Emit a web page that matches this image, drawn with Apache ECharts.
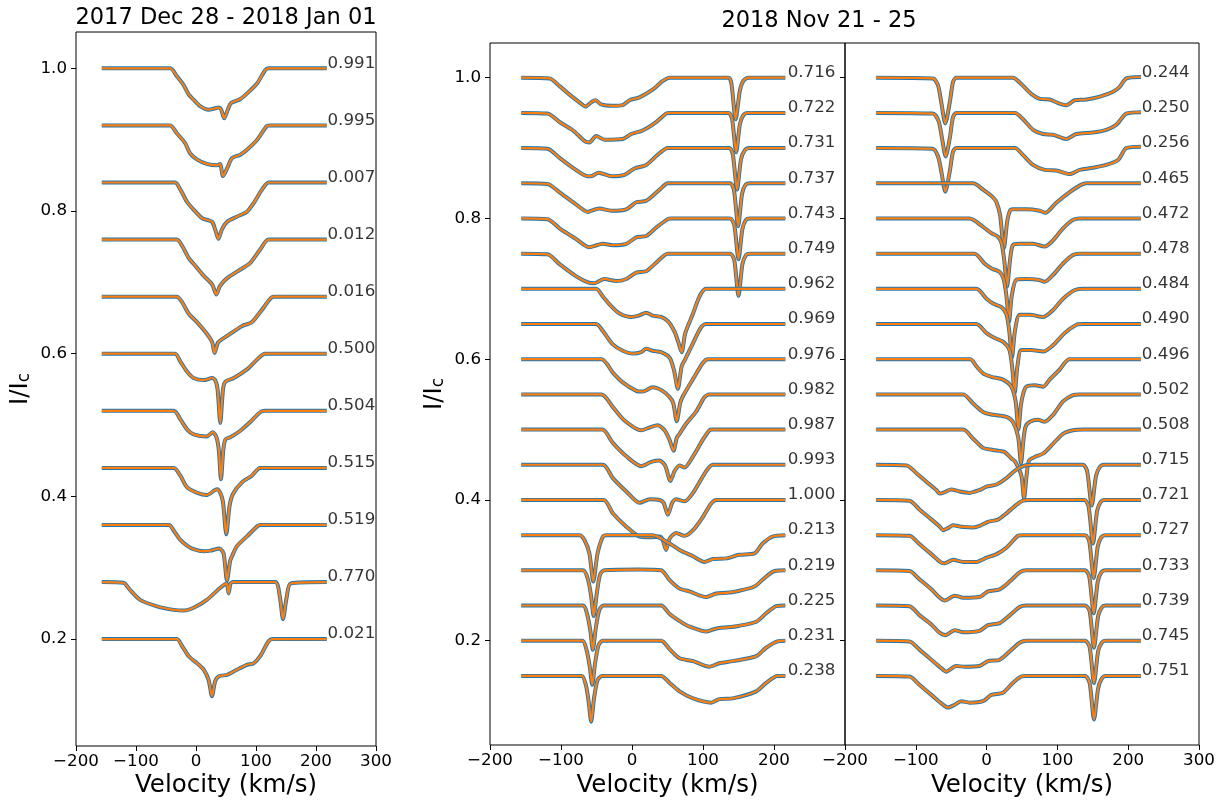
<!DOCTYPE html>
<html>
<head>
<meta charset="utf-8">
<script src="https://cdn.jsdelivr.net/npm/echarts@6/dist/echarts.min.js"></script>
<style>
  html, body { margin: 0; padding: 0; background: #fff; }
  #chart { width: 1228px; height: 808px; }
</style>
</head>
<body>
<div id="chart"></div>
<script>
// each profile is a list of [velocity km/s, I/Ic - continuum]; offsets shift them vertically

// 2017 Dec 28 - 2018 Jan 01
const leftPhases = ['0.991', '0.995', '0.007', '0.012', '0.016', '0.500', '0.504', '0.515', '0.519', '0.770', '0.021'];
const leftOffsets = [1.00, 0.92, 0.84, 0.76, 0.68, 0.60, 0.52, 0.44, 0.36, 0.28, 0.20];
const leftProfiles = [
  [[-157,0],[-43,0],[-32,-0.011],[-21,-0.023],[-12,-0.037],[-4,-0.044],[7,-0.053],[21,-0.058],[32,-0.056],[38,-0.055],[42,-0.058],[47,-0.070],[53,-0.058],[58,-0.049],[74,-0.043],[88,-0.033],[102,-0.021],[115,-0.003],[121,0],[218,0]],
  [[-157,0],[-43,0],[-32,-0.011],[-18,-0.025],[-10,-0.039],[2,-0.048],[18,-0.054],[35,-0.056],[40,-0.054],[45,-0.071],[52,-0.060],[60,-0.046],[74,-0.041],[85,-0.034],[102,-0.020],[118,-0.001],[124,0],[218,0]],
  [[-157,0],[-35,0],[-26,-0.010],[-15,-0.027],[-4,-0.038],[10,-0.050],[21,-0.053],[27,-0.055],[32,-0.066],[37.5,-0.079],[43,-0.066],[52,-0.055],[68,-0.048],[85,-0.041],[96,-0.029],[110,-0.010],[121,0],[218,0]],
  [[-157,0],[-32,0],[-23,-0.009],[-12,-0.026],[-1,-0.037],[13,-0.051],[27,-0.063],[34,-0.077],[40,-0.065],[52,-0.054],[74,-0.042],[90,-0.033],[107,-0.014],[121,0],[218,0]],
  [[-157,0],[-32,0],[-23,-0.008],[-12,-0.024],[2,-0.036],[18,-0.052],[27,-0.064],[31,-0.079],[37,-0.064],[52,-0.055],[77,-0.041],[93,-0.036],[113,-0.015],[129,0],[218,0]],
  [[-157,0],[-35,0],[-26,-0.011],[-15,-0.025],[-4,-0.034],[13,-0.037],[27,-0.034],[32,-0.037],[36,-0.050],[40.5,-0.097],[45,-0.050],[49,-0.039],[63,-0.034],[85,-0.022],[102,-0.008],[115,0],[218,0]],
  [[-157,0],[-37,0],[-26,-0.012],[-15,-0.026],[-4,-0.033],[18,-0.036],[28,-0.030],[34,-0.037],[38,-0.055],[41.6,-0.096],[45.5,-0.055],[49,-0.040],[57,-0.037],[74,-0.028],[90,-0.016],[107,-0.002],[115,0],[218,0]],
  [[-157,0],[-37,0],[-26,-0.011],[-15,-0.027],[2,-0.035],[18,-0.038],[35,-0.030],[41,-0.036],[45,-0.048],[50.5,-0.093],[56,-0.053],[62,-0.036],[77,-0.020],[93,-0.011],[107,0],[218,0]],
  [[-157,0],[-45,0],[-37,-0.008],[-26,-0.021],[-15,-0.029],[-4,-0.034],[13,-0.037],[24,-0.036],[39,-0.033],[46,-0.040],[51.6,-0.078],[57,-0.050],[60,-0.044],[68,-0.030],[85,-0.016],[102,-0.002],[107,0],[218,0]],
  [[-157,0],[-121,-0.001],[-110,-0.011],[-93,-0.025],[-65,-0.034],[-37,-0.039],[-21,-0.040],[-4,-0.036],[18,-0.025],[40.5,-0.008],[51,-0.002],[54.4,-0.016],[57.5,-0.002],[62,0],[132,0],[140,-0.022],[145,-0.052],[151,-0.022],[158,-0.002],[218,0]],
  [[-157,0],[-32,0],[-23,-0.010],[-12,-0.024],[2,-0.034],[13,-0.043],[21,-0.057],[26.6,-0.080],[32,-0.059],[38,-0.052],[52,-0.050],[68,-0.043],[85,-0.036],[96,-0.034],[107,-0.024],[121,-0.003],[129,0],[218,0]]
];

// 2018 Nov 21 - 25, first column
const midPhases = ['0.716', '0.722', '0.731', '0.737', '0.743', '0.749', '0.962', '0.969', '0.976', '0.982', '0.987', '0.993', '1.000', '0.213', '0.219', '0.225', '0.231', '0.238'];
const midOffsets = [1.00, 0.95, 0.90, 0.85, 0.80, 0.75, 0.70, 0.65, 0.60, 0.55, 0.50, 0.45, 0.40, 0.35, 0.30, 0.25, 0.20, 0.15];
const midProfiles = [
  [[-156,0],[-116,-0.001],[-102,-0.012],[-88,-0.024],[-74,-0.035],[-65.5,-0.041],[-57.5,-0.035],[-51.4,-0.032],[-43.4,-0.038],[-27,-0.040],[-13,-0.039],[-3.5,-0.032],[10.5,-0.028],[29,-0.017],[43,-0.005],[53,0],[136,0],[140,-0.008],[146,-0.059],[152,-0.018],[157,-0.004],[164,0],[216,0]],
  [[-156,0],[-119,-0.001],[-102,-0.013],[-83,-0.025],[-65.5,-0.041],[-60,-0.042],[-50.5,-0.033],[-38.7,-0.038],[-13,-0.037],[-1,-0.030],[15,-0.025],[34,-0.013],[48,-0.001],[53,0],[136,0],[141,-0.009],[146.7,-0.056],[152,-0.016],[157,-0.003],[163,0],[216,0]],
  [[-156,0],[-119,-0.001],[-102,-0.014],[-79,-0.031],[-63,-0.040],[-57.5,-0.040],[-47,-0.035],[-29,-0.040],[-10.6,-0.038],[3.5,-0.029],[20,-0.024],[39,-0.007],[50.5,0],[137,0],[142,-0.009],[148,-0.059],[153.5,-0.016],[159,-0.003],[165,0],[216,0]],
  [[-156,0],[-119,-0.001],[-102,-0.013],[-79,-0.030],[-62,-0.041],[-57.5,-0.039],[-46,-0.036],[-29,-0.039],[-8,-0.037],[6,-0.027],[20,-0.025],[39,-0.009],[50.5,0],[138,0],[143.5,-0.009],[149.5,-0.061],[155,-0.015],[160,-0.002],[166,0],[216,0]],
  [[-156,0],[-119,-0.001],[-102,-0.014],[-79,-0.029],[-60,-0.041],[-53,-0.039],[-41,-0.036],[-27,-0.038],[-8,-0.036],[6,-0.027],[20,-0.025],[34,-0.013],[50.5,-0.001],[55,0],[138,0],[144,-0.009],[150,-0.058],[155.5,-0.015],[160.5,-0.002],[166,0],[216,0]],
  [[-156,0],[-119,-0.001],[-102,-0.015],[-79,-0.032],[-62,-0.041],[-53,-0.042],[-39,-0.036],[-22,-0.039],[-8,-0.036],[6,-0.027],[20,-0.025],[34,-0.013],[50.5,0],[138,0],[144,-0.009],[150,-0.060],[155.5,-0.015],[160.5,-0.002],[166,0],[216,0]],
  [[-156,0],[-50.5,0],[-41,-0.011],[-29,-0.025],[-17.6,-0.035],[-1,-0.040],[9.6,-0.038],[20,-0.034],[29,-0.038],[41,-0.040],[50.5,-0.046],[60,-0.061],[65,-0.075],[70,-0.090],[75,-0.063],[86,-0.035],[95,-0.011],[104,0],[216,0]],
  [[-156,0],[-50.5,0],[-41,-0.010],[-27,-0.029],[-13,-0.038],[1,-0.042],[13,-0.040],[20,-0.035],[29,-0.038],[41,-0.040],[53,-0.048],[59,-0.065],[64.6,-0.092],[70,-0.060],[75,-0.050],[86,-0.027],[97,-0.005],[104,0],[216,0]],
  [[-156,0],[-43,0],[-27,-0.019],[-13,-0.033],[6,-0.045],[15,-0.046],[29,-0.040],[43,-0.045],[53,-0.054],[58,-0.062],[63,-0.088],[68,-0.062],[72,-0.052],[86,-0.028],[100,-0.005],[107,0],[216,0]],
  [[-156,0],[-43,0],[-27,-0.018],[-10.6,-0.037],[13,-0.051],[25,-0.047],[36,-0.044],[46,-0.051],[53,-0.065],[58.5,-0.080],[63,-0.062],[67,-0.056],[76,-0.042],[90,-0.025],[102,-0.004],[109,0],[216,0]],
  [[-156,0],[-42,0],[-27,-0.019],[-8,-0.038],[13,-0.052],[27,-0.046],[39,-0.044],[47,-0.052],[54,-0.073],[60,-0.059],[67,-0.051],[74,-0.054],[86,-0.038],[100,-0.014],[109,-0.001],[113,0],[216,0]],
  [[-156,0],[-41,0],[-27,-0.019],[-8,-0.038],[10.6,-0.054],[25,-0.049],[39,-0.050],[44.5,-0.054],[50.5,-0.071],[56.6,-0.054],[62,-0.049],[74,-0.052],[86,-0.040],[104.5,-0.009],[114,0],[216,0]],
  [[-156,0],[-40,0],[-27,-0.019],[-8,-0.038],[10.6,-0.052],[25,-0.053],[39,-0.052],[43,-0.056],[48,-0.071],[53,-0.055],[62,-0.047],[74,-0.051],[86,-0.043],[100,-0.024],[111.5,-0.005],[119,0],[216,0]],
  [[-156,0],[-74,0],[-67,-0.007],[-60,-0.026],[-54.5,-0.066],[-48.5,-0.026],[-41,-0.002],[-36,0],[29,0],[53,-0.012],[67,-0.021],[86,-0.030],[102,-0.038],[114,-0.034],[133,-0.033],[151,-0.028],[172.5,-0.026],[184,-0.012],[198,-0.002],[216,0]],
  [[-156,0],[-69,0],[-62,-0.013],[-57.5,-0.037],[-54,-0.065],[-49.5,-0.032],[-45,-0.006],[-39,0],[10,0.001],[41,0],[53,-0.014],[67,-0.026],[81,-0.030],[104,-0.038],[118.5,-0.033],[133,-0.032],[147,-0.030],[172.5,-0.023],[186.6,-0.011],[200.7,-0.001],[216,0]],
  [[-156,0],[-69,0],[-63,-0.013],[-58.5,-0.037],[-55.2,-0.063],[-51,-0.032],[-46,-0.006],[-40,0],[41,0],[53,-0.012],[71.6,-0.025],[81,-0.030],[104.4,-0.037],[114,-0.034],[123,-0.032],[135,-0.031],[150,-0.029],[175,-0.023],[189,-0.011],[203,-0.001],[216,0]],
  [[-156,0],[-70,0],[-64,-0.013],[-59.5,-0.037],[-56,-0.0625],[-52,-0.032],[-47,-0.006],[-41,0],[41,0],[53,-0.012],[67,-0.025],[86,-0.029],[109,-0.037],[123,-0.032],[142,-0.029],[175,-0.022],[189,-0.010],[205,-0.001],[216,0]],
  [[-156,0],[-71,0],[-65,-0.013],[-61,-0.037],[-57.5,-0.065],[-53.5,-0.032],[-48.5,-0.006],[-42,0],[41,0],[53,-0.010],[67,-0.022],[86,-0.032],[111.5,-0.038],[123,-0.033],[142,-0.032],[175,-0.022],[189,-0.010],[205,0],[216,0]]
];

// 2018 Nov 21 - 25, second column
const rightPhases = ['0.244', '0.250', '0.256', '0.465', '0.472', '0.478', '0.484', '0.490', '0.496', '0.502', '0.508', '0.715', '0.721', '0.727', '0.733', '0.739', '0.745', '0.751'];
const rightOffsets = [1.00, 0.95, 0.90, 0.85, 0.80, 0.75, 0.70, 0.65, 0.60, 0.55, 0.50, 0.45, 0.40, 0.35, 0.30, 0.25, 0.20, 0.15];
const rightProfiles = [
  [[-156,0],[-76,-0.001],[-68.6,-0.011],[-64,-0.035],[-58.3,-0.065],[-52,-0.035],[-47.4,-0.006],[-42.7,0],[37,0],[49,-0.009],[63,-0.023],[75,-0.030],[89,-0.031],[101,-0.036],[112.7,-0.039],[124.4,-0.032],[141,-0.031],[160,-0.027],[178.6,-0.020],[188,-0.013],[197.4,-0.001],[218,0.001]],
  [[-156,0],[-76,-0.001],[-67.7,-0.012],[-63,-0.036],[-57.8,-0.062],[-52,-0.036],[-47.4,-0.006],[-42.7,0],[40,0],[51.5,-0.009],[65.6,-0.024],[79.7,-0.030],[93.8,-0.031],[112.7,-0.037],[126.8,-0.030],[150,-0.028],[169,-0.024],[183,-0.017],[197.4,-0.001],[218,0.001]],
  [[-156,0],[-76,-0.001],[-68.6,-0.012],[-64,-0.033],[-58.3,-0.062],[-52,-0.033],[-47.4,-0.005],[-42.7,0],[40,0],[51.5,-0.010],[65.6,-0.024],[82,-0.031],[98.5,-0.032],[117.4,-0.037],[131.5,-0.031],[150,-0.028],[169,-0.024],[185.6,-0.017],[197.4,0],[218,0.002]],
  [[-156,0],[-19,0],[-5,-0.009],[9,-0.020],[14,-0.027],[19,-0.045],[24.5,-0.092],[29,-0.055],[33,-0.039],[37,-0.037],[56,-0.037],[75,-0.039],[83,-0.042],[98,-0.028],[117,-0.013],[132,-0.003],[141,0],[218,0]],
  [[-156,0],[-24,0],[-5,-0.012],[7,-0.021],[16,-0.026],[21,-0.035],[25,-0.060],[28.9,-0.097],[33,-0.060],[37,-0.038],[47,-0.036],[66,-0.036],[82,-0.040],[94,-0.031],[108,-0.014],[122,-0.002],[131,0],[218,0]],
  [[-156,0],[-17,0],[-3,-0.014],[7,-0.021],[18.5,-0.026],[24,-0.036],[28,-0.060],[31.7,-0.097],[35.5,-0.060],[42,-0.037],[56,-0.036],[72.6,-0.037],[82,-0.040],[94,-0.030],[108,-0.014],[122,-0.002],[131,0],[218,0]],
  [[-156,0],[-14.5,0],[0,-0.014],[9,-0.021],[21,-0.026],[28,-0.036],[32,-0.060],[35.9,-0.097],[40,-0.060],[46.7,-0.037],[61,-0.037],[80,-0.040],[94,-0.030],[108,-0.014],[124,-0.002],[136,0],[218,0]],
  [[-156,0],[-14.5,0],[0,-0.013],[11.4,-0.020],[23,-0.025],[32,-0.036],[36,-0.060],[39.7,-0.098],[43.5,-0.060],[49,-0.037],[63,-0.037],[80,-0.039],[94,-0.030],[110,-0.013],[127,-0.001],[136,0],[218,0]],
  [[-156,0],[-23,0],[-14.5,-0.010],[-5,-0.020],[6.7,-0.025],[23,-0.029],[35,-0.039],[41,-0.060],[44.9,-0.100],[48.5,-0.065],[52,-0.048],[56,-0.039],[68,-0.037],[80,-0.039],[89,-0.029],[103,-0.015],[117,0],[218,0]],
  [[-156,0],[-33,0],[-19,-0.013],[-5,-0.025],[9,-0.029],[28,-0.032],[37,-0.039],[44.5,-0.060],[48.6,-0.098],[52,-0.065],[55,-0.046],[61,-0.039],[72.6,-0.036],[82,-0.039],[94,-0.029],[108,-0.010],[122,-0.001],[131,0],[218,0]],
  [[-156,0],[-33,0],[-19,-0.013],[-5,-0.026],[9,-0.029],[25.6,-0.032],[35,-0.041],[40,-0.045],[49,-0.065],[52.9,-0.098],[56.5,-0.065],[60,-0.044],[68,-0.039],[80,-0.034],[94,-0.020],[108,-0.006],[122,-0.001],[136,0],[218,0]],
  [[-156,0],[-113,-0.001],[-99,-0.012],[-85,-0.024],[-71,-0.036],[-66,-0.041],[-59,-0.039],[-50,-0.035],[-38,-0.038],[-24,-0.040],[-10,-0.036],[0,-0.031],[14,-0.028],[28,-0.019],[42,-0.007],[54,-0.001],[66,0],[136,0],[142,-0.009],[148.5,-0.058],[154.5,-0.016],[160,-0.003],[166,0],[218,0]],
  [[-156,0],[-109,-0.001],[-94.5,-0.014],[-80,-0.026],[-66,-0.038],[-61.5,-0.043],[-54.5,-0.040],[-47.4,-0.036],[-36,-0.038],[-19,-0.039],[-10,-0.037],[2,-0.031],[16,-0.028],[28,-0.019],[42,-0.007],[51.5,-0.001],[61,0],[138,0],[144,-0.009],[150.3,-0.062],[156,-0.016],[161,-0.003],[167,0],[218,0]],
  [[-156,0],[-109,-0.001],[-94.5,-0.013],[-78,-0.027],[-64,-0.039],[-59,-0.040],[-47.4,-0.035],[-33,-0.038],[-14.5,-0.038],[0,-0.032],[14,-0.027],[28,-0.018],[44,-0.001],[50,0],[139,0],[145,-0.009],[151.3,-0.061],[157,-0.016],[162,-0.003],[168,0],[218,0]],
  [[-156,0],[-109,-0.001],[-94.5,-0.013],[-78,-0.027],[-66,-0.039],[-59,-0.043],[-45,-0.036],[-33,-0.039],[-10,-0.038],[2,-0.030],[18.5,-0.027],[32.6,-0.016],[46.7,-0.003],[56,0],[139,0],[145,-0.009],[151.3,-0.061],[157,-0.016],[162,-0.003],[168,0],[218,0]],
  [[-156,0],[-109,-0.001],[-94.5,-0.014],[-78,-0.027],[-66,-0.039],[-58,-0.042],[-45,-0.035],[-33,-0.038],[-10,-0.036],[2,-0.028],[18.5,-0.025],[32.6,-0.014],[46.7,-0.002],[56,0],[139,0],[145.5,-0.008],[151.7,-0.060],[157.5,-0.015],[162.5,-0.003],[168,0],[218,0]],
  [[-156,0],[-109,-0.001],[-94.5,-0.013],[-78,-0.027],[-64,-0.039],[-57,-0.044],[-43,-0.036],[-31,-0.037],[-10,-0.036],[2,-0.029],[18.5,-0.027],[35,-0.013],[46.7,-0.003],[56,0],[139,0],[145.5,-0.009],[151.7,-0.060],[157.5,-0.015],[162.5,-0.003],[168,0],[218,0]],
  [[-156,0],[-109,-0.001],[-94.5,-0.013],[-78,-0.027],[-64,-0.039],[-54.5,-0.045],[-45,-0.041],[-36,-0.036],[-24,-0.038],[-5,-0.036],[6.7,-0.027],[23,-0.024],[37,-0.010],[49,-0.001],[56,0],[139,0],[145.5,-0.010],[151.7,-0.062],[157.5,-0.018],[162.5,-0.004],[168,0],[218,0]]
];

const xTicks = [-200, -100, 0, 100, 200, 300];
const yTicks = [0.2, 0.4, 0.6, 0.8, 1.0];
const phaseX = 220;

const FONT = 'DejaVu Sans';
const chart = echarts.init(document.getElementById('chart'));

const grids = [
  { left: 76, top: 32, width: 300, height: 714 },
  { left: 490, top: 43, width: 355, height: 702 },
  { left: 845, top: 43, width: 354, height: 702 }
];
const yRanges = [[0.0502, 1.0509], [0.0518, 1.0493], [0.0518, 1.0493]];

function minus(v) {
  return String(v).replace('-', '\u2212');
}

const series = [];
function addPanel(idx, phases, offsets, profiles) {
  profiles.forEach((prof, j) => {
    const pts = prof.map(p => [p[0], offsets[j] + p[1]]);
    // observed points (blue) then the fit (orange)
    series.push({
      type: 'line', xAxisIndex: idx, yAxisIndex: idx, data: pts,
      symbol: 'none', smooth: 0.25, silent: true,
      lineStyle: { color: '#1f77b4', width: 4 }
    });
    series.push({
      type: 'line', xAxisIndex: idx, yAxisIndex: idx, data: pts,
      symbol: 'none', smooth: 0.25, silent: true,
      lineStyle: { color: '#ff7f0e', width: 2.2 }
    });
  });
  series.push({
    type: 'scatter', xAxisIndex: idx, yAxisIndex: idx, silent: true,
    data: offsets.map(o => [phaseX, o]),
    symbolSize: 1,
    itemStyle: { color: 'rgba(0,0,0,0)' },
    label: {
      show: true,
      formatter: p => phases[p.dataIndex],
      position: [0, 0],
      align: 'left',
      verticalAlign: 'bottom',
      offset: [0, 4],
      fontFamily: FONT,
      fontSize: 16.7,
      color: '#000'
    }
  });
}
addPanel(0, leftPhases, leftOffsets, leftProfiles);
addPanel(1, midPhases, midOffsets, midProfiles);
addPanel(2, rightPhases, rightOffsets, rightProfiles);

const xAxis = grids.map((g, i) => ({
  type: 'value', gridIndex: i, min: xTicks[0], max: xTicks[xTicks.length - 1], interval: 100,
  axisLine: { show: false, onZero: false },
  axisTick: { show: true, length: 5, lineStyle: { color: '#000', width: 1 } },
  splitLine: { show: false },
  axisLabel: {
    fontFamily: FONT, fontSize: 16.7, color: '#000', margin: 7,
    showMaxLabel: i !== 1,
    formatter: v => minus(v)
  }
}));

const yAxis = grids.map((g, i) => ({
  type: 'value', gridIndex: i, min: yRanges[i][0], max: yRanges[i][1],
  axisLine: { show: false, onZero: false },
  axisTick: { show: true, length: 5, customValues: yTicks, lineStyle: { color: '#000', width: 1 } },
  splitLine: { show: false },
  axisLabel: {
    show: i !== 2,
    customValues: yTicks,
    fontFamily: FONT, fontSize: 16.7, color: '#000', margin: 9,
    formatter: v => v.toFixed(1)
  }
}));

const textStyle = (text, size) => ({ text: text, fontFamily: FONT, fontSize: size, fill: '#000', align: 'center', verticalAlign: 'middle' });
const ylabel = (x, y) => ({
  type: 'text', x: x, y: y, rotation: Math.PI / 2,
  style: {
    text: '{a|I/I}{b|c}',
    align: 'center', verticalAlign: 'middle',
    rich: {
      a: { fontFamily: FONT, fontSize: 24.5, fill: '#000' },
      b: { fontFamily: FONT, fontSize: 17, fill: '#000', verticalAlign: 'bottom', padding: [8, 0, 0, 0] }
    }
  }
});

chart.setOption({
  animation: false,
  backgroundColor: '#fff',
  grid: grids.map(g => Object.assign({ show: true, borderColor: '#000', borderWidth: 1, backgroundColor: 'transparent' }, g)),
  xAxis: xAxis,
  yAxis: yAxis,
  series: series,
  graphic: [
    { type: 'text', x: 226, y: 18.5, style: textStyle('2017 Dec 28 - 2018 Jan 01', 22.5) },
    { type: 'text', x: 819, y: 21.5, style: textStyle('2018 Nov 21 - 25', 22.5) },
    { type: 'text', x: 226, y: 786, style: textStyle('Velocity (km/s)', 24.5) },
    { type: 'text', x: 667.5, y: 786, style: textStyle('Velocity (km/s)', 24.5) },
    { type: 'text', x: 1022, y: 786, style: textStyle('Velocity (km/s)', 24.5) },
    ylabel(21, 389),
    ylabel(435, 394)
  ]
});
</script>
</body>
</html>
